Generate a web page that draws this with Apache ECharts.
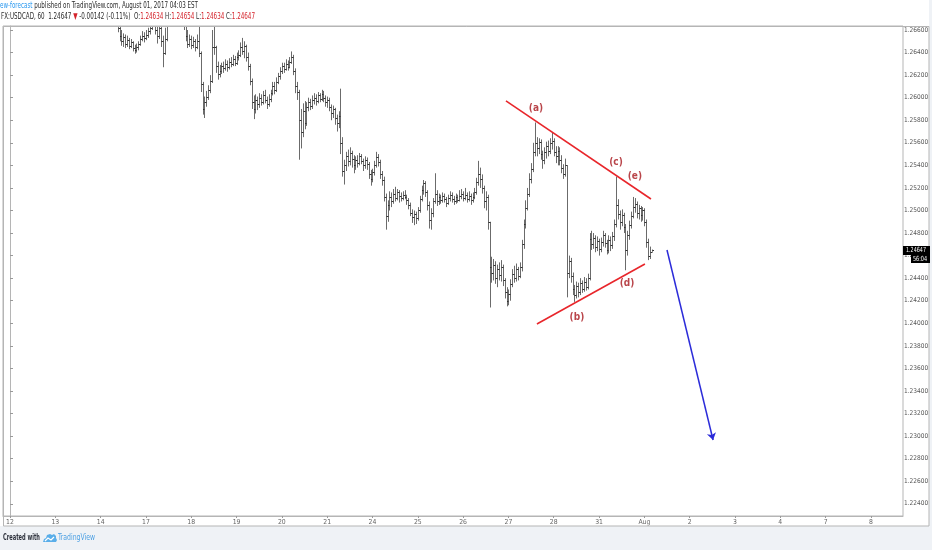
<!DOCTYPE html>
<html><head><meta charset="utf-8">
<script src="https://cdn.jsdelivr.net/npm/echarts@6/dist/echarts.min.js"></script>
<style>html,body{margin:0;padding:0;background:#fff}#c{width:932px;height:550px}</style>
</head><body><div id="c"></div>
<script>
// hourly trading bars, hour index counted from Jul 12 00:00 (weekends skipped)
const firstHour = 57;
const firstOpen = 1.2672;
const closes = [
1.2662,1.2655,1.2650,1.2654,1.2648,1.2651,1.2646,1.2649,1.2644,1.2642,
1.2645,1.2648,1.2652,1.2655,1.2653,1.2656,1.2659,1.2662,1.2667,1.2669,
1.2660,1.2655,1.2662,1.2650,1.2640,1.2652,1.2666,1.2675,1.2680,1.2684,
1.2682,1.2678,1.2683,1.2676,1.2672,1.2666,1.2655,1.2648,1.2652,1.2647,
1.2650,1.2645,1.2650,1.2640,1.2612,1.2590,1.2596,1.2601,1.2607,1.2615,
1.2645,1.2645,1.2628,1.2621,1.2624,1.2628,1.2626,1.2630,1.2627,1.2632,
1.2630,1.2634,1.2631,1.2636,1.2638,1.2645,1.2641,1.2646,1.2636,1.2628,
1.2615,1.2596,1.2590,1.2598,1.2594,1.2600,1.2596,1.2602,1.2598,1.2594,
1.2599,1.2604,1.2610,1.2607,1.2614,1.2619,1.2624,1.2628,1.2625,1.2630,
1.2627,1.2632,1.2636,1.2624,1.2610,1.2605,1.2580,1.2570,1.2588,1.2578,
1.2592,1.2596,1.2593,1.2598,1.2600,1.2597,1.2602,1.2599,1.2603,1.2600,
1.2596,1.2598,1.2592,1.2586,1.2590,1.2582,1.2578,1.2584,1.2560,1.2535,
1.2540,1.2548,1.2544,1.2551,1.2546,1.2540,1.2545,1.2542,1.2548,1.2544,
1.2540,1.2545,1.2541,1.2532,1.2528,1.2534,1.2540,1.2547,1.2543,1.2532,
1.2527,1.2512,1.2495,1.2505,1.2512,1.2508,1.2515,1.2511,1.2516,1.2513,
1.2511,1.2514,1.2512,1.2509,1.2505,1.2498,1.2494,1.2497,1.2493,1.2500,
1.2510,1.2518,1.2524,1.2516,1.2505,1.2492,1.2498,1.2508,1.2515,1.2508,
1.2512,1.2509,1.2513,1.2510,1.2507,1.2511,1.2514,1.2510,1.2508,1.2512,
1.2509,1.2513,1.2515,1.2511,1.2514,1.2510,1.2513,1.2509,1.2512,1.2516,
1.2525,1.2532,1.2528,1.2520,1.2508,1.2512,1.2490,1.2450,1.2445,1.2452,
1.2440,1.2448,1.2443,1.2450,1.2438,1.2428,1.2420,1.2426,1.2435,1.2444,
1.2440,1.2448,1.2442,1.2450,1.2470,1.2488,1.2502,1.2515,1.2528,1.2537,
1.2552,1.2560,1.2555,1.2561,1.2550,1.2545,1.2552,1.2557,1.2553,1.2560,
1.2562,1.2552,1.2548,1.2553,1.2545,1.2538,1.2532,1.2540,1.2445,1.2455,
1.2442,1.2430,1.2425,1.2433,1.2428,1.2436,1.2430,1.2437,1.2432,1.2440,
1.2475,1.2470,1.2476,1.2468,1.2473,1.2466,1.2472,1.2478,1.2471,1.2465,
1.2474,1.2469,1.2477,1.2488,1.2505,1.2497,1.2490,1.2496,1.2485,1.2465,
1.2478,1.2487,1.2495,1.2503,1.2506,1.2498,1.2502,1.2496,1.2500,1.2490,
1.2472,1.2460,1.24634,1.24647];
const highs = [
1.2678,1.2668,1.2660,1.2657,1.2656,1.2655,1.2653,1.2652,1.2650,1.2647,
1.2648,1.2650,1.2655,1.2659,1.2658,1.2660,1.2662,1.2665,1.2671,1.2674,
1.2671,1.2666,1.2668,1.2665,1.2655,1.2662,1.2672,1.2680,1.2686,1.2690,
1.2688,1.2685,1.2689,1.2686,1.2679,1.2675,1.2668,1.2660,1.2656,1.2655,
1.2654,1.2652,1.2656,1.2670,1.2641,1.2614,1.2601,1.2606,1.2611,1.2620,
1.2660,1.2665,1.2646,1.2632,1.2629,1.2631,1.2632,1.2634,1.2633,1.2635,
1.2636,1.2638,1.2637,1.2640,1.2642,1.2649,1.2653,1.2650,1.2647,1.2640,
1.2630,1.2617,1.2602,1.2603,1.2601,1.2604,1.2603,1.2606,1.2607,1.2601,
1.2603,1.2607,1.2614,1.2614,1.2618,1.2622,1.2627,1.2631,1.2631,1.2634,
1.2633,1.2636,1.2641,1.2638,1.2626,1.2614,1.2607,1.2590,1.2595,1.2597,
1.2596,1.2600,1.2599,1.2602,1.2604,1.2603,1.2605,1.2604,1.2607,1.2606,
1.2602,1.2601,1.2600,1.2594,1.2593,1.2591,1.2585,1.2588,1.2608,1.2565,
1.2545,1.2552,1.2554,1.2556,1.2553,1.2549,1.2548,1.2549,1.2551,1.2550,
1.2546,1.2548,1.2547,1.2543,1.2536,1.2537,1.2544,1.2552,1.2550,1.2545,
1.2535,1.2530,1.2515,1.2509,1.2517,1.2516,1.2519,1.2521,1.2519,1.2518,
1.2516,1.2517,1.2518,1.2514,1.2511,1.2507,1.2501,1.2500,1.2499,1.2503,
1.2513,1.2522,1.2527,1.2526,1.2518,1.2508,1.2502,1.2511,1.2533,1.2518,
1.2515,1.2514,1.2516,1.2515,1.2512,1.2514,1.2517,1.2516,1.2513,1.2515,
1.2514,1.2518,1.2519,1.2517,1.2520,1.2516,1.2517,1.2515,1.2516,1.2520,
1.2529,1.2544,1.2538,1.2532,1.2522,1.2517,1.2514,1.2490,1.2459,1.2457,
1.2455,1.2452,1.2454,1.2456,1.2452,1.2440,1.2432,1.2430,1.2439,1.2448,
1.2451,1.2453,1.2450,1.2454,1.2474,1.2492,1.2509,1.2520,1.2533,1.2542,
1.2560,1.2578,1.2565,1.2564,1.2563,1.2553,1.2556,1.2561,1.2562,1.2564,
1.2569,1.2564,1.2557,1.2557,1.2556,1.2549,1.2541,1.2546,1.2540,1.2460,
1.2458,1.2445,1.2434,1.2437,1.2436,1.2440,1.2438,1.2441,1.2440,1.2444,
1.2480,1.2482,1.2480,1.2478,1.2477,1.2475,1.2476,1.2482,1.2480,1.2474,
1.2478,1.2477,1.2481,1.2492,1.2530,1.2510,1.2500,1.2501,1.2498,1.2488,
1.2482,1.2491,1.2499,1.2512,1.2511,1.2508,1.2505,1.2504,1.2503,1.2502,
1.2492,1.2475,1.2468,1.24654];
const lows = [
1.2658,1.2650,1.2646,1.2645,1.2644,1.2645,1.2643,1.2644,1.2641,1.2639,
1.2640,1.2642,1.2646,1.2650,1.2649,1.2651,1.2653,1.2656,1.2660,1.2664,
1.2656,1.2648,1.2652,1.2645,1.2627,1.2638,1.2650,1.2664,1.2672,1.2677,
1.2676,1.2672,1.2675,1.2671,1.2668,1.2660,1.2650,1.2644,1.2645,1.2643,
1.2644,1.2641,1.2643,1.2636,1.2605,1.2585,1.2582,1.2592,1.2598,1.2604,
1.2613,1.2638,1.2622,1.2616,1.2618,1.2621,1.2622,1.2624,1.2623,1.2625,
1.2627,1.2628,1.2628,1.2629,1.2633,1.2636,1.2638,1.2635,1.2632,1.2624,
1.2611,1.2590,1.2581,1.2586,1.2589,1.2591,1.2593,1.2594,1.2595,1.2590,
1.2592,1.2596,1.2602,1.2603,1.2605,1.2612,1.2616,1.2621,1.2622,1.2624,
1.2624,1.2626,1.2630,1.2620,1.2604,1.2598,1.2545,1.2555,1.2565,1.2572,
1.2575,1.2588,1.2589,1.2590,1.2594,1.2593,1.2595,1.2596,1.2597,1.2596,
1.2592,1.2591,1.2588,1.2580,1.2582,1.2576,1.2570,1.2573,1.2550,1.2530,
1.2523,1.2535,1.2539,1.2540,1.2538,1.2533,1.2536,1.2538,1.2540,1.2541,
1.2535,1.2537,1.2536,1.2528,1.2522,1.2525,1.2531,1.2538,1.2539,1.2528,
1.2522,1.2508,1.2483,1.2490,1.2500,1.2503,1.2506,1.2508,1.2509,1.2507,
1.2508,1.2509,1.2510,1.2505,1.2501,1.2495,1.2489,1.2487,1.2488,1.2491,
1.2498,1.2508,1.2514,1.2512,1.2500,1.2484,1.2483,1.2494,1.2506,1.2504,
1.2505,1.2506,1.2507,1.2507,1.2503,1.2505,1.2508,1.2507,1.2505,1.2506,
1.2507,1.2508,1.2510,1.2508,1.2509,1.2507,1.2508,1.2505,1.2507,1.2510,
1.2514,1.2522,1.2520,1.2515,1.2502,1.2500,1.2483,1.2414,1.2436,1.2438,
1.2435,1.2432,1.2438,1.2437,1.2433,1.2422,1.2415,1.2416,1.2420,1.2432,
1.2436,1.2437,1.2438,1.2440,1.2446,1.2466,1.2484,1.2500,1.2512,1.2524,
1.2534,1.2548,1.2548,1.2550,1.2545,1.2537,1.2541,1.2546,1.2548,1.2550,
1.2554,1.2548,1.2542,1.2540,1.2540,1.2533,1.2528,1.2530,1.2423,1.2440,
1.2436,1.2425,1.2419,1.2422,1.2423,1.2425,1.2427,1.2428,1.2429,1.2430,
1.2438,1.2465,1.2466,1.2463,1.2464,1.2460,1.2463,1.2468,1.2467,1.2461,
1.2462,1.2464,1.2466,1.2473,1.2485,1.2492,1.2483,1.2486,1.2480,1.2447,
1.2460,1.2474,1.2484,1.2493,1.2498,1.2493,1.2492,1.2490,1.2491,1.2486,
1.2467,1.2456,1.2457,1.24634];

const dayLabels = ['12','13','14','17','18','19','20','21','24','25','26','27','28','31','Aug','2','3','4','7','8'];
const hoursPerDay = 24;
const priceTicks = [1.224,1.226,1.228,1.230,1.232,1.234,1.236,1.238,1.240,1.242,1.244,1.246,1.248,1.250,1.252,1.254,1.256,1.258,1.260,1.262,1.264,1.266];

// drawn annotations (hour index, price)
const upperLine = [[262.7, 1.25971], [339.5, 1.25102]];
const lowerLine = [[279.1, 1.23994], [336.3, 1.24526]];
const arrowLine = [[348.0, 1.24650], [372.4, 1.22965]];
const waveLabels = [['(a)', 278.6, 1.25909], ['(b)', 300.3, 1.24056], ['(c)', 321.0, 1.25430], ['(d)', 326.8, 1.24357], ['(e)', 331.0, 1.25306]];
const countdown = '56:04';

// ---- font helpers ----
const mctx = document.createElement('canvas').getContext('2d');
function tw(text, size, family, weight) { mctx.font = (weight || 'normal') + ' ' + size + 'px ' + family; return mctx.measureText(text).width; }
function hasFont(f) { const s = 'Wl1.26600 abcdefghij'; return Math.abs(tw(s, 30, "'" + f + "', monospace") - tw(s, 30, 'monospace')) > 0.5; }
const FAMILY = ['Liberation Sans Narrow', 'DejaVu Sans Condensed', 'Liberation Sans', 'DejaVu Sans'].find(hasFont) || 'sans-serif';
const FONT = "'" + FAMILY + "', sans-serif";
const axisFont = Math.max(6.5, Math.min(8, 10 * 19 / tw('1.26600', 10, FONT)));
function fitScale(text, size, target, weight) { return target / tw(text, size, FONT, weight); }

const ohlc = closes.map((c, i) => [firstHour + i, i ? closes[i - 1] : firstOpen, c, lows[i], highs[i]]);
const tickHours = dayLabels.map((d, i) => i * hoursPerDay);

function renderBar(params, api) {
  const t = api.value(0), o = api.value(1), c = api.value(2), l = api.value(3), h = api.value(4);
  const pH = api.coord([t, h]), pL = api.coord([t, l]), pO = api.coord([t, o]), pC = api.coord([t, c]);
  const x = Math.round(pH[0]) + 0.5;
  const st = { stroke: '#6b6b6b', lineWidth: 1 };
  const tk = { stroke: '#333', lineWidth: 1 };
  const yo = Math.round(pO[1]) + 0.5, yc = Math.round(pC[1]) + 0.5;
  return { type: 'group', children: [
    { type: 'line', shape: { x1: x, y1: pH[1], x2: x, y2: pL[1] }, style: st },
    { type: 'line', shape: { x1: x - 1.5, y1: yo, x2: x, y2: yo }, style: tk },
    { type: 'line', shape: { x1: x, y1: yc, x2: x + 1.5, y2: yc }, style: tk }
  ]};
}

const chart = echarts.init(document.getElementById('c'), null, { renderer: 'canvas' });
const option = {
  backgroundColor: '#ffffff',
  animation: false,
  textStyle: { fontFamily: FONT },
  grid: { left: 3, right: 29, top: 26, bottom: 34, show: true, borderColor: '#b5b5b5', borderWidth: 1, backgroundColor: '#fff' },
  xAxis: {
    type: 'value', min: -3.71, max: 473.0,
    axisLine: { show: true, lineStyle: { color: '#b5b5b5' } },
    axisTick: { show: true, length: 2, lineStyle: { color: '#999' }, customValues: tickHours },
    axisLabel: { show: true, margin: 3, fontSize: axisFont + 0.3, color: '#666', fontFamily: FONT, customValues: tickHours,
      formatter: v => dayLabels[Math.round(v / hoursPerDay)] || '' },
    splitLine: { show: false }
  },
  yAxis: {
    type: 'value', position: 'right', min: 1.222916, max: 1.266355, scale: true,
    axisLine: { show: true, lineStyle: { color: '#b5b5b5' } },
    axisTick: { show: true, length: 3, inside: false, lineStyle: { color: '#999' }, customValues: priceTicks },
    axisLabel: { show: true, margin: 1, fontSize: axisFont, color: '#555', fontFamily: FONT, customValues: priceTicks,
      formatter: v => v.toFixed(5) },
    splitLine: { show: false }
  },
  series: [
    { type: 'custom', name: 'USDCAD', renderItem: renderBar, data: ohlc, encode: { x: 0, y: [1, 2, 3, 4] }, clip: true, z: 2, silent: true },
    { type: 'line', data: upperLine, symbol: 'none', lineStyle: { color: '#e8262b', width: 1.6 }, z: 4, silent: true, clip: true },
    { type: 'line', data: lowerLine, symbol: 'none', lineStyle: { color: '#e8262b', width: 1.6 }, z: 4, silent: true, clip: true },
    { type: 'lines', coordinateSystem: 'cartesian2d', z: 4, silent: true,
      symbol: ['none', 'arrow'], symbolSize: [0, 7],
      lineStyle: { color: '#2c2cd9', width: 1.5, opacity: 1 },
      data: [{ coords: arrowLine }] },
    { type: 'scatter', symbolSize: 1, itemStyle: { color: 'rgba(0,0,0,0)' }, z: 5, silent: true,
      data: waveLabels.map(w => [w[1], w[2], w[0]]),
      label: { show: true, position: 'inside', formatter: p => p.value[2], color: '#a8161d', fontSize: 10, fontWeight: 'bold', fontFamily: FONT } }
  ]
};
chart.setOption(option);

const lastClose = closes[closes.length - 1];
const py = Math.round(chart.convertToPixel({ gridIndex: 0 }, [0, lastClose])[1]);

const h1Parts = ['ew-forecast', ' published on TradingView.com, August 01, 2017 04:03 EST'];
const h2Parts = ['FX:USDCAD, 60  1.24647 ', '▼', ' -0.00142 (-0.11%)  O:', '1.24634', ' H:', '1.24654', ' L:', '1.24634', ' C:', '1.24647'];
const HS = 9;
const h1Scale = fitScale(h1Parts.join(''), HS, 198);
const h2Scale = fitScale(h2Parts.join(''), HS, 254);
const tagText = lastClose.toFixed(5);

chart.setOption({
  graphic: [
    { type: 'rect', id: 'footbg', z: -10, silent: true, shape: { x: 0, y: 526, width: 932, height: 24 }, style: { fill: '#eff2f6' } },
    { type: 'rect', id: 'sidebg', z: -10, silent: true, shape: { x: 929, y: 0, width: 3, height: 550 }, style: { fill: '#eff2f6' } },
    { type: 'rect', id: 'frame', z: 10, silent: true, shape: { x: 3.5, y: 26.5, width: 925.5, height: 499.5 }, style: { fill: 'none', stroke: '#b5b5b5', lineWidth: 1 } },
    { type: 'text', id: 'h1', x: 0, y: 6, scaleX: h1Scale, z: 20, silent: true, style: {
      text: '{b|' + h1Parts[0] + '}{n|' + h1Parts[1] + '}', verticalAlign: 'middle',
      rich: { b: { fill: '#2a98ef', fontSize: HS, fontFamily: FONT }, n: { fill: '#2b2b2b', fontSize: HS, fontFamily: FONT } } } },
    { type: 'text', id: 'h2', x: 1, y: 17, scaleX: h2Scale, z: 20, silent: true, style: {
      text: h2Parts.map((p, i) => (i % 2 ? '{r|' : '{n|') + p + '}').join(''), verticalAlign: 'middle',
      rich: { n: { fill: '#2b2b2b', fontSize: HS, fontFamily: FONT }, r: { fill: '#d4232b', fontSize: HS, fontFamily: FONT } } } },
    { type: 'rect', id: 'tagbox', z: 20, silent: true, shape: { x: 903, y: py - 4, width: 27, height: 9 }, style: { fill: '#000' } },
    { type: 'text', id: 'tagtxt', z: 21, silent: true, x: 906, y: py + 0.5, scaleX: fitScale(tagText, 7, 20), style: { text: tagText, fill: '#fff', fontSize: 7, fontFamily: FONT, verticalAlign: 'middle' } },
    { type: 'rect', id: 'cdbox', z: 20, silent: true, shape: { x: 911, y: py + 5, width: 19, height: 8 }, style: { fill: '#000' } },
    { type: 'text', id: 'cdtxt', z: 21, silent: true, x: 913, y: py + 9, scaleX: fitScale(countdown, 7, 14), style: { text: countdown, fill: '#fff', fontSize: 7, fontFamily: FONT, verticalAlign: 'middle' } },
    { type: 'text', id: 'f1', z: 20, silent: true, x: 3, y: 538, scaleX: fitScale('Created with', 9, 37, 'bold'), style: { text: 'Created with', fill: '#2a2e39', fontSize: 9, fontWeight: 'bold', fontFamily: FONT, verticalAlign: 'middle' } },
    { type: 'polygon', id: 'logo', z: 20, silent: true, x: 43, y: 533, shape: { points: [[0, 9], [1, 6], [3, 5], [4, 2], [7, 1], [9, 2], [11, 1], [13, 3], [13, 5], [14, 7], [13, 9]] }, style: { fill: '#5aaee9' } },
    { type: 'polyline', id: 'logo2', z: 21, silent: true, x: 43, y: 533, shape: { points: [[2, 8], [5, 5], [8, 7], [11, 4]] }, style: { stroke: '#fff', lineWidth: 1.2, fill: 'none' } },
    { type: 'text', id: 'f2', z: 20, silent: true, x: 58, y: 538, scaleX: fitScale('TradingView', 9, 37), style: { text: 'TradingView', fill: '#4a9fe3', fontSize: 9, fontFamily: FONT, verticalAlign: 'middle' } }
  ]
});
</script></body></html>
